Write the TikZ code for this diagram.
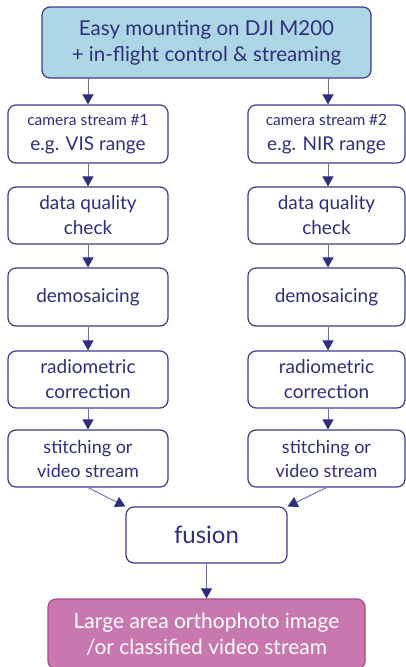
\documentclass[tikz,border=0pt]{standalone}
\usepackage{fontspec}
\setmainfont{Lato}
\usetikzlibrary{arrows.meta}
\definecolor{txt}{HTML}{2E2E7C}
\definecolor{bord}{HTML}{3A3A8A}
\definecolor{arr}{HTML}{6C6CA2}
\definecolor{topfill}{HTML}{ADD6E4}
\definecolor{botfill}{HTML}{C878AE}
\definecolor{botbord}{HTML}{A5488C}
\begin{document}
\begin{tikzpicture}[x=1pt,y=-1pt,
  box/.style={draw=bord,line width=1.2pt,rounded corners=8pt,text=txt,align=center,inner sep=0pt},
  conn/.style={draw=arr,line width=0.9pt,-{Triangle[length=10pt,width=11pt,fill=txt,color=txt]}}]
\useasboundingbox (0,0) rectangle (406,667);
% top
\node[box,fill=topfill,minimum width=329pt,minimum height=71pt,font=\fontsize{20.5}{26}\selectfont] (top) at (206.5,42.5) {Easy mounting on DJI M200\\+ in-flight control \& streaming};
% left column
\node[box,minimum width=160pt,minimum height=58pt,font=\fontsize{19}{25}\selectfont] (c1) at (88,134) {{\fontsize{15.5}{25}\selectfont camera stream \#1}\\e.g. VIS range};
\node[box,minimum width=160pt,minimum height=57pt,font=\fontsize{19}{25}\selectfont] (q1) at (88,215.5) {data quality\\check};
\node[box,minimum width=160pt,minimum height=58pt,font=\fontsize{19}{25}\selectfont] (d1) at (88,297) {demosaicing};
\node[box,minimum width=160pt,minimum height=57pt,font=\fontsize{19}{25}\selectfont] (r1) at (88,379.5) {radiometric\\correction};
\node[box,minimum width=160pt,minimum height=57pt,font=\fontsize{18}{24}\selectfont] (s1) at (88,458.5) {stitching or\\video stream};
% right column
\node[box,minimum width=157pt,minimum height=58pt,font=\fontsize{19}{25}\selectfont] (c2) at (326.5,134) {{\fontsize{15.5}{25}\selectfont camera stream \#2}\\e.g. NIR range};
\node[box,minimum width=157pt,minimum height=57pt,font=\fontsize{19}{25}\selectfont] (q2) at (326.5,215.5) {data quality\\check};
\node[box,minimum width=157pt,minimum height=58pt,font=\fontsize{19}{25}\selectfont] (d2) at (326.5,297) {demosaicing};
\node[box,minimum width=157pt,minimum height=57pt,font=\fontsize{19}{25}\selectfont] (r2) at (326.5,379.5) {radiometric\\correction};
\node[box,minimum width=157pt,minimum height=57pt,font=\fontsize{18}{24}\selectfont] (s2) at (326.5,458.5) {stitching or\\video stream};
% fusion
\node[box,minimum width=161pt,minimum height=56pt,font=\fontsize{24}{28}\selectfont] (fu) at (206.5,535) {fusion};
% bottom
\node[box,draw=botbord,fill=botfill,text=white,minimum width=317pt,minimum height=70pt,font=\fontsize{21}{26}\selectfont] (bot) at (206.5,634) {Large area orthophoto image\\/or classified video stream};
% connectors
\coordinate (tl) at (88,78);
\coordinate (tr) at (328,78);
\draw[conn] (tl) -- (c1.north);
\draw[conn] (tr) -- (tr |- c2.north);
\foreach \a/\b in {c1/q1,q1/d1,d1/r1,r1/s1}{\draw[conn] (\a.south) -- (\b.north);}
\foreach \a/\b in {c2/q2,q2/d2,d2/r2,r2/s2}{\draw[conn] ([xshift=1.5pt]\a.south) -- ([xshift=1.5pt]\b.north);}
\draw[conn] (s1.south) -- (fu.north west);
\draw[conn] (s2.south) -- (fu.north east);
\draw[conn] (fu.south) -- (bot.north);
\end{tikzpicture}
\end{document}
